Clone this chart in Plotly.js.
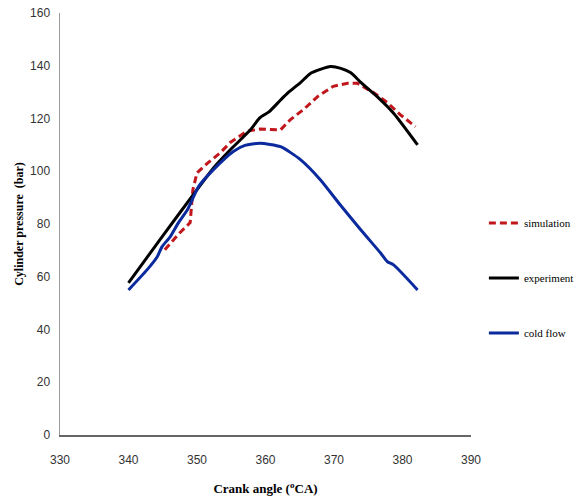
<!DOCTYPE html>
<html>
<head>
<meta charset="utf-8">
<script src="https://cdn.plot.ly/plotly-3.0.1.min.js"></script>
<style>html,body{margin:0;padding:0;background:#fff;}#chart{width:583px;height:499px;}</style>
</head>
<body>
<div id="chart"></div>
<script>
const simX = [345.3, 347.5, 349.0, 349.4, 350.0, 351.5, 353.4, 354.9, 357.3, 359.2, 362.2, 363.6, 365.5, 367.6, 369.9, 372.0, 373.4, 375.8, 377.8, 379.7, 381.9];
const simY = [70.2, 76.7, 80.5, 93.0, 99.4, 103.0, 107.0, 111.0, 115.2, 116.0, 115.7, 119.5, 123.3, 128.3, 132.2, 133.4, 133.4, 129.8, 126.0, 121.4, 116.9];

const expX = [340.0, 345.0, 350.0, 352.5, 355.0, 357.8, 359.2, 360.5, 362.2, 363.3, 365.1, 366.5, 368.0, 369.5, 371.0, 372.4, 374.0, 376.3, 378.7, 382.2];
const expY = [57.7, 75.5, 93.0, 101.5, 108.5, 115.7, 120.3, 122.5, 127.0, 129.8, 133.6, 137.0, 138.6, 139.7, 139.0, 137.4, 133.5, 128.3, 122.0, 110.0];

const coldX = [340.0, 342.7, 344.2, 344.9, 346.1, 347.3, 348.6, 349.3, 350.2, 352.4, 355.3, 357.0, 359.2, 362.2, 365.1, 368.0, 370.9, 373.9, 376.8, 377.8, 378.7, 382.2];
const coldY = [55.0, 62.6, 67.6, 71.4, 75.2, 80.5, 85.4, 89.2, 94.1, 100.6, 107.5, 109.8, 110.6, 109.3, 104.4, 96.8, 87.3, 77.8, 69.0, 65.7, 64.5, 55.0];

const names = ['simulation', 'experiment', 'cold flow'];
const xTicks = [330, 340, 350, 360, 370, 380, 390];
const yTicks = [0, 20, 40, 60, 80, 100, 120, 140, 160];

const traces = [
  {x: simX, y: simY, name: names[0], mode: 'lines', legendgroup: 'a',
   line: {color: '#c0161c', width: 3, dash: '7px,4px'}},
  {x: expX, y: expY, name: names[1], mode: 'lines', legendgroup: 'b',
   line: {color: '#000000', width: 3, shape: 'spline', smoothing: 0.6}},
  {x: coldX, y: coldY, name: names[2], mode: 'lines', legendgroup: 'c',
   line: {color: '#0b2a9e', width: 3, shape: 'spline', smoothing: 0.6}}
];

const tickFont = {family: '"Liberation Sans Narrow", "Liberation Sans", sans-serif', size: 12, color: '#333'};
const layout = {
  width: 583, height: 499,
  margin: {l: 60, r: 112, t: 13, b: 64},
  paper_bgcolor: '#fff', plot_bgcolor: '#fff',
  showlegend: true,
  legend: {xref: 'container', yref: 'container', x: 0.83, xanchor: 'left', y: 0.443, yanchor: 'middle',
    font: {family: '"Liberation Serif", serif', size: 11, color: '#000'},
    tracegroupgap: 36, traceorder: 'grouped', bgcolor: 'rgba(0,0,0,0)', itemwidth: 30},
  xaxis: {range: [330, 390], tickvals: xTicks, ticktext: xTicks.map(String),
    showgrid: false, zeroline: false, showline: true, linecolor: '#666', linewidth: 1.5,
    ticks: '', tickfont: tickFont, ticklabelstandoff: 13, automargin: false,
    title: {text: '<b>Crank angle (<sup>o</sup>CA)</b>', standoff: 18,
      font: {family: '"Liberation Serif", serif', size: 13, color: '#000'}}},
  yaxis: {range: [0, 160], tickvals: yTicks, ticktext: yTicks.map(String),
    showgrid: false, zeroline: false, showline: true, linecolor: '#999', linewidth: 1.5,
    ticks: '', tickfont: tickFont, ticklabelstandoff: 6, automargin: false,
    title: {text: '<b>Cylinder pressure  (bar)</b>', standoff: 4,
      font: {family: '"Liberation Serif", serif', size: 12, color: '#000'}}}
};
Plotly.newPlot('chart', traces, layout, {displayModeBar: false, staticPlot: true});
</script>
</body>
</html>
